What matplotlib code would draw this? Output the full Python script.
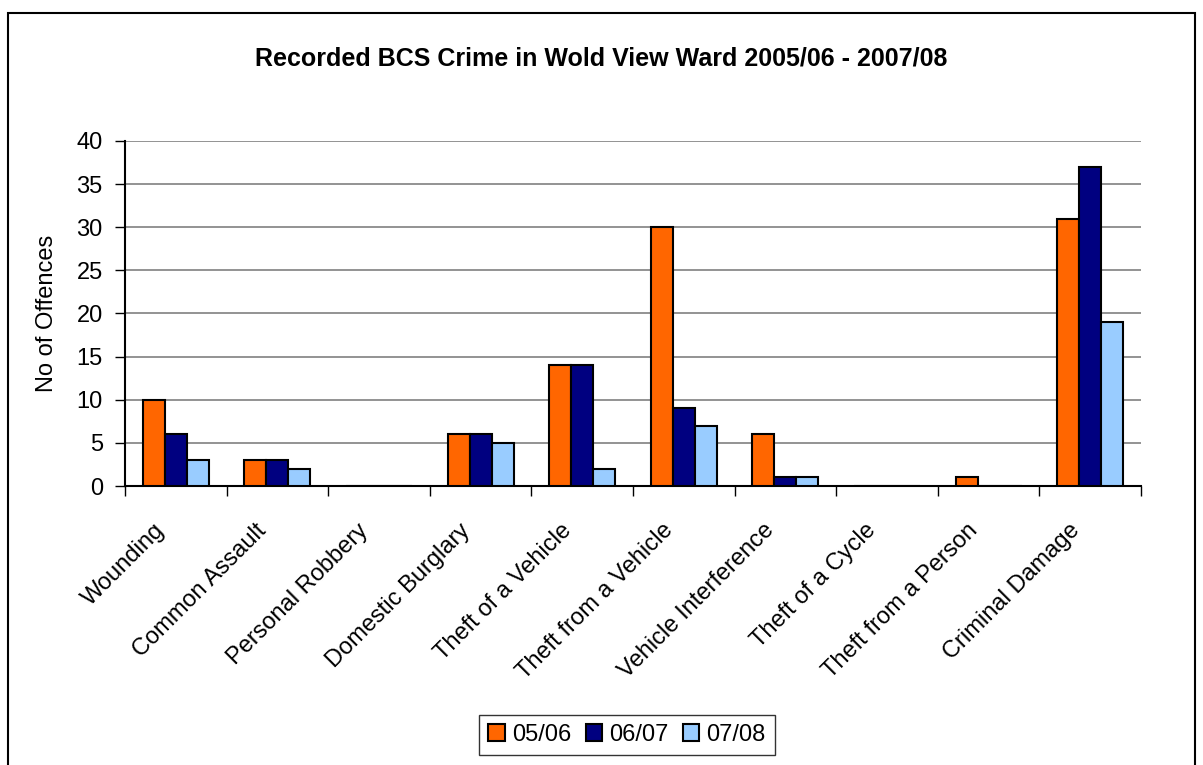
import numpy as np
import matplotlib.pyplot as plt
from matplotlib.patches import Rectangle
from matplotlib.transforms import ScaledTranslation

plt.rcParams['font.family'] = ['Liberation Sans', 'DejaVu Sans']

categories = ['Wounding', 'Common Assault', 'Personal Robbery', 'Domestic Burglary',
              'Theft of a Vehicle', 'Theft from a Vehicle', 'Vehicle Interference',
              'Theft of a Cycle', 'Theft from a Person', 'Criminal Damage']
y0506 = [10, 3, 0, 6, 14, 30, 6, 0, 1, 31]
y0607 = [6, 3, 0, 6, 14, 9, 1, 0, 0, 37]
y0708 = [3, 2, 0, 5, 2, 7, 1, 0, 0, 19]
series = ['05/06', '06/07', '07/08']
colors = ['#FF6600', '#000080', '#99CCFF']

fig = plt.figure(figsize=(12.03, 7.65), dpi=100)
ax = fig.add_axes([0.1039, 0.3647, 0.8446, 0.451])

# rahmen rundt hele figuren
fig.patches.append(Rectangle((8 / 1203, -0.05), 1187 / 1203, 1 - 13 / 765 + 0.05,
                             transform=fig.transFigure, fill=False,
                             edgecolor='black', linewidth=1.5))

x = np.arange(len(categories))
w = 0.217
for i, (vals, c, lab) in enumerate(zip([y0506, y0607, y0708], colors, series)):
    ax.bar(x + (i - 1) * w, vals, width=w, color=c, edgecolor='black',
           linewidth=1.5, label=lab, zorder=3)

ax.set_xlim(-0.5, len(categories) - 0.5)
ax.set_ylim(0, 40)
ax.set_yticks(range(0, 41, 5))
ax.yaxis.grid(True, color='#808080', linewidth=1.2, zorder=0)
ax.set_axisbelow(True)

ax.set_xticks(np.arange(len(categories) + 1) - 0.5)
ax.set_xticklabels([])
ax.set_xticks(x, minor=True)
ax.set_xticklabels(categories, minor=True, rotation=45, ha='right', va='top',
                   rotation_mode='anchor', fontsize=17)
ax.tick_params(axis='x', which='minor', length=0, pad=24)
ax.tick_params(axis='x', which='major', length=7, width=1, direction='out')
ax.tick_params(axis='y', length=7, width=1, direction='out', labelsize=17, pad=9)

# flytt etikettene litt til venstre
offset = ScaledTranslation(-22 / 100, 0, fig.dpi_scale_trans)
for lbl in ax.get_xticklabels(minor=True):
    lbl.set_transform(lbl.get_transform() + offset)

for s in ['top', 'right']:
    ax.spines[s].set_visible(False)
ax.spines['left'].set_linewidth(1.5)
ax.spines['bottom'].set_linewidth(1.5)

ax.set_ylabel('No of Offences', fontsize=17)
ax.yaxis.set_label_coords(-0.066, 0.5)
fig.text(0.5, 1 - 58 / 765, 'Recorded BCS Crime in Wold View Ward 2005/06 - 2007/08',
         ha='center', va='center', fontsize=18, fontweight='bold')

leg = fig.legend(loc='center', bbox_to_anchor=(627 / 1203, 1 - 735 / 765), ncol=3,
                 fontsize=17, frameon=True, fancybox=False, edgecolor='black',
                 handlelength=0.7, handleheight=0.7, handletextpad=0.3,
                 columnspacing=0.6, borderpad=0.4)
leg.get_frame().set_linewidth(1)

fig.savefig('out.png', dpi=100)
